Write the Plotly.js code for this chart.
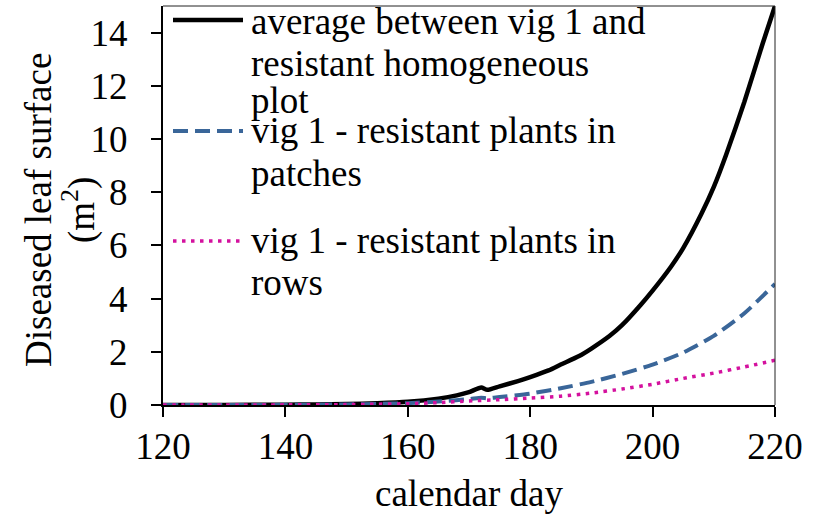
<!DOCTYPE html>
<html>
<head>
<meta charset="utf-8">
<script src="https://cdn.plot.ly/plotly-3.0.1.min.js"></script>
<style>html,body{margin:0;padding:0;background:#fff;}#chart{width:814px;height:518px;}</style>
</head>
<body>
<div id="chart"></div>
<script>
// calendar days
var daysAvg = [120, 130, 140, 145, 150, 155, 160, 165, 168, 170, 172, 173, 175, 178, 180, 183, 185, 188, 190, 193, 195, 198, 200, 203, 205, 208, 210, 212, 215, 218, 220];
var avgHomogeneous = [0, 0.003, 0.01, 0.02, 0.035, 0.065, 0.12, 0.24, 0.36, 0.48, 0.66, 0.57, 0.7, 0.9, 1.05, 1.3, 1.52, 1.84, 2.12, 2.6, 3.0, 3.75, 4.3, 5.2, 5.9, 7.2, 8.2, 9.4, 11.4, 13.6, 15.0];

var daysPatches = [120, 140, 150, 155, 160, 165, 170, 172, 173, 175, 180, 185, 190, 195, 200, 205, 210, 215, 220];
var patches = [0, 0.005, 0.02, 0.04, 0.07, 0.13, 0.22, 0.27, 0.25, 0.3, 0.43, 0.63, 0.87, 1.17, 1.52, 1.97, 2.6, 3.45, 4.55];

var daysRows = [120, 140, 150, 155, 160, 165, 170, 175, 180, 185, 190, 195, 200, 205, 210, 215, 220];
var rows = [0, 0.005, 0.015, 0.03, 0.05, 0.09, 0.15, 0.2, 0.26, 0.33, 0.45, 0.6, 0.78, 1.0, 1.2, 1.43, 1.68];

var legendLabels = [
  ["average between vig 1 and", "resistant homogeneous", "plot"],
  ["vig 1 - resistant plants in", "patches"],
  ["vig 1 - resistant plants in", "rows"]
];
var yTitleLines = ["Diseased leaf surface", "(m<sup>2</sup>)"];
var xTitle = "calendar day";
var xTicks = [120, 140, 160, 180, 200, 220];
var yTicks = [0, 2, 4, 6, 8, 10, 12, 14];

var FONT = "Liberation Serif";
var FS = 37;
var colors = ["#000000", "#3A6699", "#D4119E"];
var dashes = ["solid", "15px,7px", "3.5px,5.5px"];
var widths = [4.5, 4, 3.5];

var traces = [
  {x: daysAvg, y: avgHomogeneous, name: legendLabels[0].join(" "), mode: "lines",
   line: {color: colors[0], width: widths[0], dash: dashes[0], shape: "spline", smoothing: 0.6}},
  {x: daysPatches, y: patches, name: legendLabels[1].join(" "), mode: "lines",
   line: {color: colors[1], width: widths[1], dash: dashes[1], shape: "spline", smoothing: 0.6}},
  {x: daysRows, y: rows, name: legendLabels[2].join(" "), mode: "lines",
   line: {color: colors[2], width: widths[2], dash: dashes[2], shape: "spline", smoothing: 0.6}}
];

// pixel helpers (plot area: x 163..775, y 6..405)
var L = 163, R = 775, T = 6, B = 405;
function px(xp) { return (xp - L) / (R - L); }
function py(yp) { return (B - yp) / (B - T); }

var sampleY = [20, 131, 241];
var lineCenters = [[21, 63, 100], [130, 173], [240, 282]];

var shapes = [];
var annotations = [];
for (var i = 0; i < 3; i++) {
  shapes.push({type: "line", xref: "paper", yref: "paper",
    x0: px(173), x1: px(243), y0: py(sampleY[i]), y1: py(sampleY[i]),
    line: {color: colors[i], width: widths[i], dash: dashes[i]}});
  for (var j = 0; j < legendLabels[i].length; j++) {
    annotations.push({xref: "paper", yref: "paper", x: px(249), y: py(lineCenters[i][j]),
      xanchor: "left", yanchor: "middle", showarrow: false, text: legendLabels[i][j],
      font: {family: FONT, size: FS, color: "#000"}});
  }
}
// y-axis title (two lines, rotated)
var yTitleX = [38, 79];
for (var k = 0; k < yTitleLines.length; k++) {
  annotations.push({xref: "paper", yref: "paper", x: px(yTitleX[k]), y: py(210),
    xanchor: "center", yanchor: "middle", textangle: -90, showarrow: false,
    text: yTitleLines[k], font: {family: FONT, size: FS, color: "#000"}});
}
// thin frame on top and right
shapes.push({type: "line", xref: "paper", yref: "paper", x0: 0, x1: 1, y0: 1, y1: 1, line: {color: "#222", width: 1}});
shapes.push({type: "line", xref: "paper", yref: "paper", x0: 1, x1: 1, y0: 0, y1: 1, line: {color: "#222", width: 1}});

var layout = {
  width: 814, height: 518,
  margin: {l: L, r: 814 - R, t: T, b: 518 - B},
  paper_bgcolor: "#fff", plot_bgcolor: "#fff",
  showlegend: false,
  font: {family: FONT, size: FS, color: "#000"},
  xaxis: {
    range: [120, 220], tickvals: xTicks, ticktext: xTicks.map(String),
    ticks: "outside", ticklen: 10, tickwidth: 2, tickcolor: "#000",
    showline: true, linecolor: "#000", linewidth: 2, showgrid: false, zeroline: false,
    ticklabelstandoff: -2,
    tickfont: {family: FONT, size: FS, color: "#000"},
    title: {text: xTitle, font: {family: FONT, size: FS, color: "#000"}, standoff: 14}
  },
  yaxis: {
    range: [0, 15], tickvals: yTicks, ticktext: yTicks.map(String),
    ticks: "outside", ticklen: 10, tickwidth: 2, tickcolor: "#000",
    showline: true, linecolor: "#000", linewidth: 2, showgrid: false, zeroline: false,
    ticklabelstandoff: 16,
    tickfont: {family: FONT, size: FS, color: "#000"}
  },
  shapes: shapes,
  annotations: annotations
};

Plotly.newPlot("chart", traces, layout, {displayModeBar: false, staticPlot: true});
</script>
</body>
</html>
